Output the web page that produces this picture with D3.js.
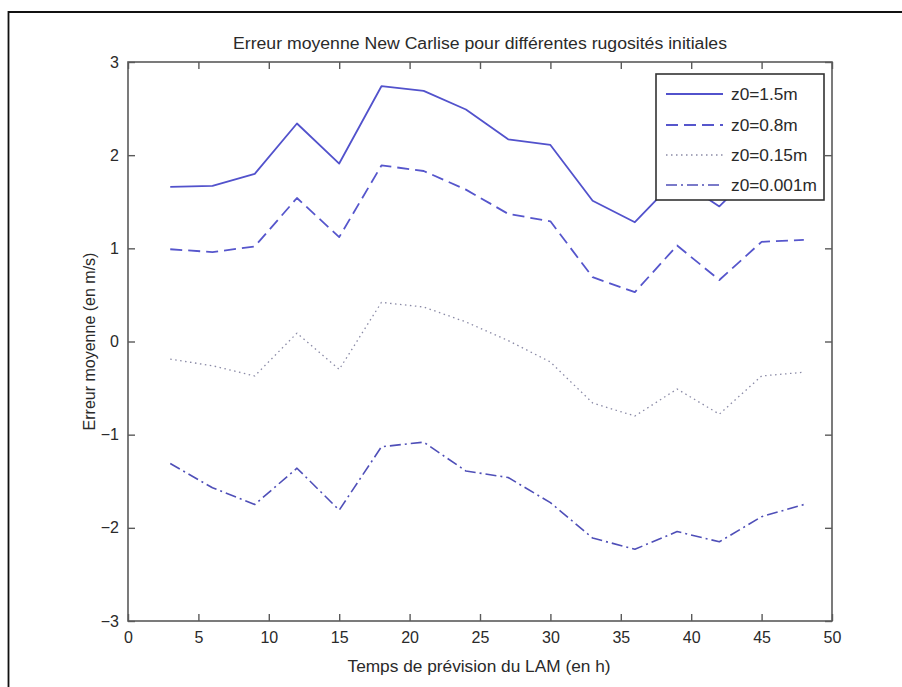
<!DOCTYPE html>
<html>
<head>
<meta charset="utf-8">
<script src="https://cdn.jsdelivr.net/npm/d3@7/dist/d3.min.js"></script>
<style>
  html, body { margin: 0; padding: 0; background: #fff; }
  svg { display: block; }
  text { font-family: "Liberation Sans", Arial, Helvetica, sans-serif; fill: #2a2a2a; }
</style>
</head>
<body>
<svg id="chart" width="902" height="687"></svg>
<script>
// Forecast lead times (h)
const leadTimes = [3, 6, 9, 12, 15, 18, 21, 24, 27, 30, 33, 36, 39, 42, 45, 48];

// Mean error (m/s) for each initial roughness length
const z0_1_5   = [1.66, 1.67, 1.80, 2.34, 1.91, 2.74, 2.69, 2.49, 2.17, 2.11, 1.51, 1.28, 1.75, 1.45, 1.90, 1.92];
const z0_0_8   = [0.99, 0.96, 1.02, 1.54, 1.12, 1.89, 1.83, 1.63, 1.37, 1.29, 0.69, 0.53, 1.03, 0.66, 1.07, 1.09];
const z0_0_15  = [-0.19, -0.26, -0.37, 0.09, -0.30, 0.42, 0.37, 0.21, 0.01, -0.22, -0.66, -0.80, -0.51, -0.78, -0.37, -0.33];
const z0_0_001 = [-1.31, -1.57, -1.75, -1.36, -1.81, -1.13, -1.08, -1.39, -1.46, -1.73, -2.11, -2.23, -2.04, -2.15, -1.88, -1.75];

const seriesNames = ["z0=1.5m", "z0=0.8m", "z0=0.15m", "z0=0.001m"];
const seriesValues = [z0_1_5, z0_0_8, z0_0_15, z0_0_001];

const xTicks = [0, 5, 10, 15, 20, 25, 30, 35, 40, 45, 50];
const yTicks = [-3, -2, -1, 0, 1, 2, 3];

const titleText = "Erreur moyenne New Carlise pour différentes rugosités initiales";
const xLabelText = "Temps de prévision du LAM (en h)";
const yLabelText = "Erreur moyenne (en m/s)";

// Line styles per series
const styles = [
  { color: "#5252cc", width: 1.8, dash: null },
  { color: "#5656cc", width: 1.8, dash: "12,6" },
  { color: "#8a8aa6", width: 1.3, dash: "1.5,3.5" },
  { color: "#4f4fb8", width: 1.6, dash: "11,4,2,4" }
];

const fontSize = 16;
const stretch = 1.08;   // horizontal widening of the text glyphs

const svg = d3.select("#chart");

// Figure frame
svg.append("rect")
  .attr("x", 0).attr("y", 0).attr("width", 902).attr("height", 687)
  .attr("fill", "#fff");
svg.append("path")
  .attr("d", "M8.5,700 L8.5,12 L905,12")
  .attr("fill", "none").attr("stroke", "#111").attr("stroke-width", 1.8);

const plot = { left: 128, right: 832, top: 62, bottom: 621 };

const x = d3.scaleLinear().domain([0, 50]).range([plot.left, plot.right]);
const y = d3.scaleLinear().domain([-3, 3]).range([plot.bottom, plot.top]);

const axisColor = "#5a5a5a";
const tickLen = 7;

function styleAxis(g) {
  g.select(".domain").remove();
  g.selectAll(".tick line").attr("stroke", axisColor).attr("stroke-width", 1.4);
  g.selectAll(".tick text")
    .attr("font-size", fontSize)
    .attr("fill", "#2a2a2a");
}

// Bottom axis: ticks point inward
svg.append("g")
  .attr("transform", `translate(0,${plot.bottom})`)
  .call(d3.axisBottom(x).tickValues(xTicks).tickSize(-tickLen).tickPadding(11).tickFormat(d3.format("d")))
  .call(styleAxis);

// Top axis ticks, no labels
svg.append("g")
  .attr("transform", `translate(0,${plot.top})`)
  .call(d3.axisTop(x).tickValues(xTicks).tickSize(-tickLen).tickFormat(""))
  .call(styleAxis);

// Left axis
svg.append("g")
  .attr("transform", `translate(${plot.left},0)`)
  .call(d3.axisLeft(y).tickValues(yTicks).tickSize(-tickLen).tickPadding(9).tickFormat(d3.format("d")))
  .call(styleAxis);

// Right axis ticks, no labels
svg.append("g")
  .attr("transform", `translate(${plot.right},0)`)
  .call(d3.axisRight(y).tickValues(yTicks).tickSize(-tickLen).tickFormat(""))
  .call(styleAxis);

// Axes box
svg.append("rect")
  .attr("x", plot.left).attr("y", plot.top)
  .attr("width", plot.right - plot.left).attr("height", plot.bottom - plot.top)
  .attr("fill", "none").attr("stroke", axisColor).attr("stroke-width", 1.6);

// Data lines
const line = d3.line()
  .x((d, i) => x(leadTimes[i]))
  .y(d => y(d));

seriesValues.forEach((vals, k) => {
  const p = svg.append("path")
    .datum(vals)
    .attr("d", line)
    .attr("fill", "none")
    .attr("stroke", styles[k].color)
    .attr("stroke-width", styles[k].width)
    .attr("stroke-linejoin", "round");
  if (styles[k].dash) p.attr("stroke-dasharray", styles[k].dash);
});

// Legend
const legend = { x: 656, y: 74, w: 168, h: 126 };
svg.append("rect")
  .attr("x", legend.x).attr("y", legend.y)
  .attr("width", legend.w).attr("height", legend.h)
  .attr("fill", "#fff").attr("stroke", "#333").attr("stroke-width", 1.6);

const rowY = [94, 125, 155, 185];
seriesNames.forEach((name, k) => {
  const l = svg.append("line")
    .attr("x1", 666).attr("x2", 723)
    .attr("y1", rowY[k]).attr("y2", rowY[k])
    .attr("stroke", styles[k].color)
    .attr("stroke-width", styles[k].width);
  if (styles[k].dash) l.attr("stroke-dasharray", styles[k].dash);
  svg.append("text")
    .attr("transform", `translate(731,${rowY[k] + 6}) scale(${stretch},1)`)
    .attr("font-size", fontSize)
    .text(name);
});

// Title and axis labels
svg.append("text")
  .attr("x", 480).attr("y", 49)
  .attr("text-anchor", "middle")
  .attr("font-size", fontSize)
  .attr("textLength", 494)
  .attr("lengthAdjust", "spacingAndGlyphs")
  .text(titleText);

svg.append("text")
  .attr("x", 479).attr("y", 672)
  .attr("text-anchor", "middle")
  .attr("font-size", fontSize)
  .attr("textLength", 263)
  .attr("lengthAdjust", "spacingAndGlyphs")
  .text(xLabelText);

svg.append("text")
  .attr("transform", `translate(95,${(plot.top + plot.bottom) / 2}) rotate(-90)`)
  .attr("text-anchor", "middle")
  .attr("font-size", fontSize)
  .text(yLabelText);
</script>
</body>
</html>
